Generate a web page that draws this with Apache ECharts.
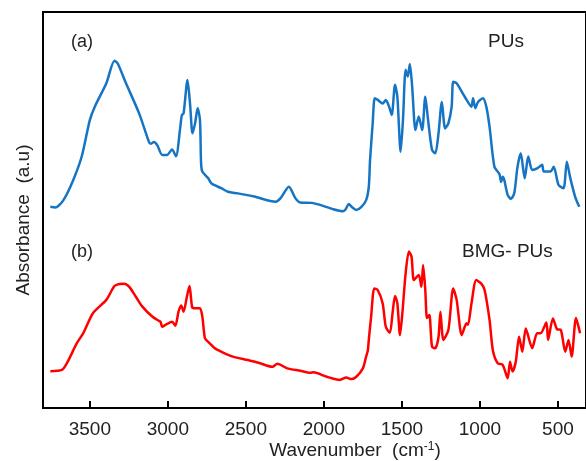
<!DOCTYPE html>
<html>
<head>
<meta charset="utf-8">
<script src="https://cdn.jsdelivr.net/npm/echarts@6/dist/echarts.min.js"></script>
<style>
  html, body { margin: 0; padding: 0; background: #fff; }
  #chart { width: 586px; height: 461px; }
</style>
</head>
<body>
<div id="chart"></div>
<script>
// FTIR spectra: wavenumber (cm-1) and absorbance (a.u., curves stacked with offset)
const tickLabels = [3500, 3000, 2500, 2000, 1500, 1000, 500];

const puWavenumber = [3753, 3721, 3669, 3606, 3552, 3500, 3468, 3394, 3342, 3321, 3268, 3184, 3121, 3110, 3089, 3068, 3036, 3005, 2973, 2948, 2920, 2910, 2899, 2874, 2857, 2842, 2825, 2809, 2794, 2787, 2779, 2741, 2720, 2657, 2615, 2551, 2446, 2309, 2277, 2224, 2183, 2151, 2077, 2024, 1940, 1876, 1860, 1841, 1819, 1792, 1761, 1729, 1712, 1704, 1687, 1674, 1655, 1623, 1603, 1582, 1565, 1544, 1529, 1508, 1493, 1476, 1462, 1449, 1434, 1413, 1392, 1370, 1350, 1332, 1307, 1286, 1265, 1244, 1223, 1202, 1181, 1171, 1149, 1097, 1054, 1044, 1029, 1012, 981, 959, 938, 907, 875, 864, 854, 844, 822, 801, 780, 759, 738, 713, 690, 665, 633, 601, 591, 548, 527, 496, 464, 443, 422, 390, 363];
const puAbsorbance = [0.508, 0.506, 0.525, 0.576, 0.635, 0.727, 0.761, 0.820, 0.877, 0.870, 0.820, 0.744, 0.672, 0.667, 0.672, 0.664, 0.639, 0.639, 0.653, 0.636, 0.710, 0.740, 0.744, 0.828, 0.765, 0.694, 0.720, 0.757, 0.727, 0.619, 0.597, 0.580, 0.567, 0.555, 0.546, 0.542, 0.534, 0.521, 0.530, 0.559, 0.530, 0.519, 0.518, 0.513, 0.502, 0.497, 0.502, 0.515, 0.507, 0.500, 0.507, 0.525, 0.559, 0.626, 0.719, 0.782, 0.778, 0.769, 0.778, 0.761, 0.740, 0.816, 0.786, 0.647, 0.727, 0.854, 0.837, 0.869, 0.811, 0.702, 0.736, 0.702, 0.786, 0.727, 0.652, 0.643, 0.694, 0.773, 0.706, 0.719, 0.761, 0.824, 0.820, 0.786, 0.761, 0.782, 0.757, 0.773, 0.782, 0.761, 0.710, 0.609, 0.591, 0.571, 0.584, 0.576, 0.538, 0.528, 0.542, 0.609, 0.643, 0.580, 0.635, 0.601, 0.605, 0.614, 0.597, 0.597, 0.609, 0.563, 0.555, 0.622, 0.583, 0.534, 0.508];

const bmgWavenumber = [3753, 3679, 3647, 3584, 3542, 3479, 3394, 3342, 3310, 3279, 3247, 3205, 3163, 3100, 3057, 3047, 3036, 3015, 2973, 2952, 2931, 2914, 2899, 2878, 2861, 2844, 2825, 2794, 2779, 2762, 2741, 2699, 2678, 2594, 2488, 2425, 2330, 2298, 2235, 2151, 2088, 2066, 1982, 1898, 1856, 1824, 1792, 1750, 1729, 1718, 1712, 1697, 1677, 1655, 1623, 1603, 1577, 1560, 1544, 1529, 1512, 1497, 1476, 1455, 1438, 1423, 1392, 1375, 1364, 1350, 1339, 1324, 1307, 1286, 1265, 1253, 1234, 1202, 1171, 1149, 1117, 1097, 1086, 1076, 1054, 1023, 991, 970, 938, 917, 886, 854, 822, 807, 791, 770, 749, 728, 706, 665, 633, 611, 574, 563, 532, 506, 481, 453, 432, 412, 384, 358];
const bmgAbsorbance = [0.093, 0.096, 0.113, 0.163, 0.189, 0.240, 0.273, 0.308, 0.313, 0.314, 0.306, 0.281, 0.256, 0.231, 0.220, 0.218, 0.205, 0.210, 0.218, 0.208, 0.244, 0.259, 0.243, 0.281, 0.308, 0.254, 0.252, 0.252, 0.231, 0.176, 0.167, 0.151, 0.146, 0.131, 0.121, 0.115, 0.104, 0.112, 0.100, 0.094, 0.089, 0.090, 0.079, 0.071, 0.077, 0.073, 0.079, 0.100, 0.130, 0.146, 0.172, 0.231, 0.302, 0.298, 0.264, 0.205, 0.190, 0.239, 0.283, 0.264, 0.184, 0.239, 0.340, 0.395, 0.382, 0.323, 0.336, 0.306, 0.361, 0.298, 0.227, 0.235, 0.155, 0.151, 0.180, 0.243, 0.172, 0.197, 0.302, 0.273, 0.184, 0.205, 0.214, 0.210, 0.264, 0.323, 0.314, 0.298, 0.222, 0.146, 0.113, 0.109, 0.075, 0.117, 0.092, 0.117, 0.180, 0.142, 0.201, 0.151, 0.189, 0.189, 0.216, 0.172, 0.226, 0.199, 0.197, 0.142, 0.172, 0.130, 0.227, 0.189];

const zip = (xs, ys) => xs.map((x, i) => [x, ys[i]]);
const FONT = '"Liberation Sans", Arial, sans-serif';

const chart = echarts.init(document.getElementById('chart'), null, { renderer: 'canvas' });

chart.setOption({
  animation: false,
  backgroundColor: '#ffffff',
  // plot frame runs past the right edge of the canvas
  grid: { left: 43, top: 12, width: 550, height: 396, show: true, borderColor: '#000', borderWidth: 2, backgroundColor: 'transparent' },
  xAxis: {
    type: 'value',
    inverse: true,
    min: 320,
    max: 3800,
    interval: 20,
    axisLine: { lineStyle: { color: '#000', width: 2 } },
    axisTick: {
      inside: true, length: 7, lineStyle: { color: '#000', width: 2 },
      customValues: tickLabels
    },
    axisLabel: {
      customValues: tickLabels,
      formatter: v => String(v),
      color: '#222', fontSize: 19, fontFamily: FONT, margin: 12
    },
    splitLine: { show: false }
  },
  yAxis: {
    type: 'value',
    min: 0,
    max: 1,
    axisLine: { show: true, lineStyle: { color: '#000', width: 2 } },
    axisTick: { show: false },
    axisLabel: { show: false },
    splitLine: { show: false }
  },
  series: [
    {
      name: 'PUs', type: 'line', data: zip(puWavenumber, puAbsorbance),
      showSymbol: false, smooth: 0.25,
      lineStyle: { color: '#1575C4', width: 2.5 }
    },
    {
      name: 'BMG- PUs', type: 'line', data: zip(bmgWavenumber, bmgAbsorbance),
      showSymbol: false, smooth: 0.25,
      lineStyle: { color: '#FF0000', width: 2.5 }
    }
  ],
  graphic: [
    { type: 'text', left: 71, top: 33, style: { text: '(a)', font: '18px ' + FONT, fill: '#222' } },
    { type: 'text', left: 488, top: 32, style: { text: 'PUs', font: '19px ' + FONT, fill: '#222' } },
    { type: 'text', left: 71, top: 243, style: { text: '(b)', font: '18px ' + FONT, fill: '#222' } },
    { type: 'text', left: 462, top: 242, style: { text: 'BMG- PUs', font: '19px ' + FONT, fill: '#222' } },
    {
      type: 'text', x: 24, y: 220, rotation: Math.PI / 2,
      style: { text: 'Absorbance  (a.u)', font: '19px ' + FONT, fill: '#222', align: 'center', verticalAlign: 'middle' }
    },
    {
      type: 'text', x: 355, y: 451,
      style: {
        text: '{n|Wavenumber  (cm}{s|-1}{n|)}',
        align: 'center', verticalAlign: 'middle',
        rich: {
          n: { font: '19px ' + FONT, fill: '#222', color: '#222' },
          s: { font: '12px ' + FONT, fill: '#222', color: '#222', padding: [0, 0, 9, 0] }
        }
      }
    }
  ]
});
</script>
</body>
</html>
